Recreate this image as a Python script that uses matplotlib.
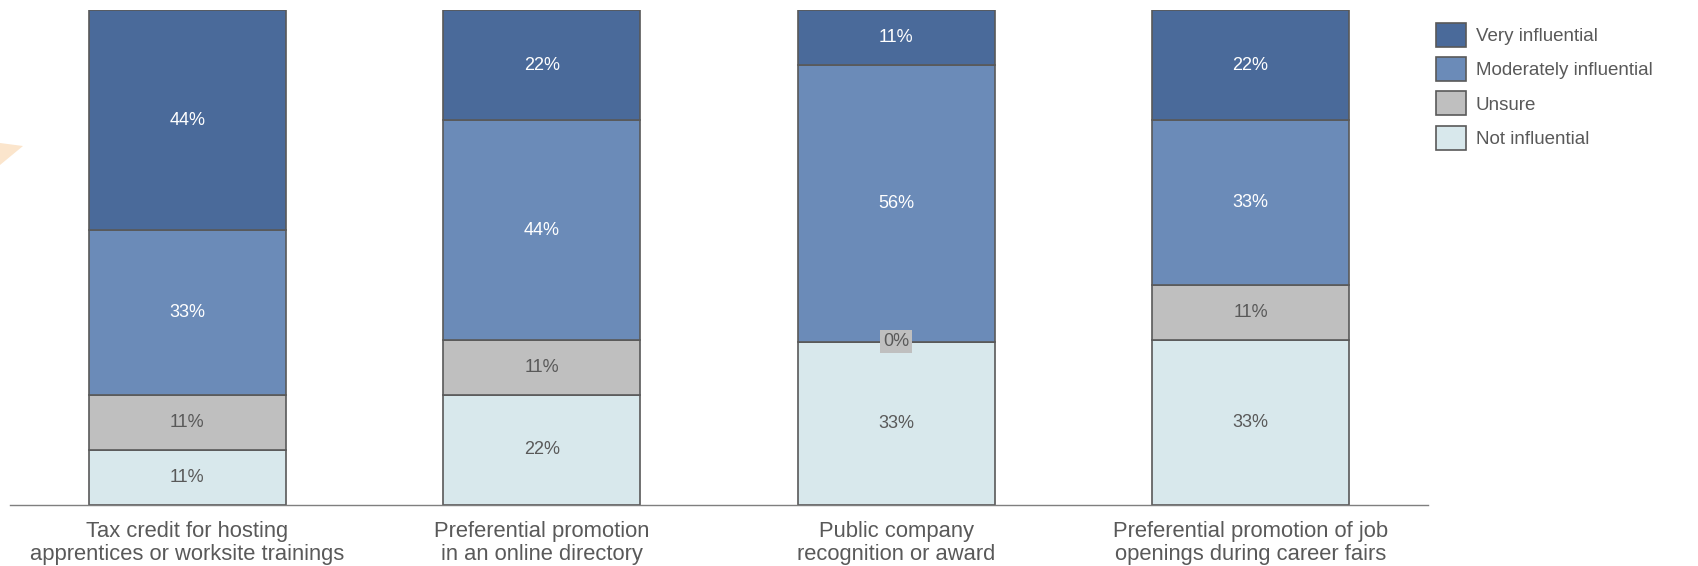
import matplotlib
matplotlib.use("Agg")
import matplotlib.pyplot as plt
import numpy as np
from matplotlib.patches import Polygon, Patch

plt.rcParams['font.family'] = ['Liberation Sans', 'DejaVu Sans']

categories = [
    "Tax credit for hosting\napprentices or worksite trainings",
    "Preferential promotion\nin an online directory",
    "Public company\nrecognition or award",
    "Preferential promotion of job\nopenings during career fairs",
]
series_names = ["Not influential", "Unsure", "Moderately influential", "Very influential"]
not_influential = [11, 22, 33, 33]
unsure = [11, 11, 0, 11]
moderately = [33, 44, 56, 33]
very = [44, 22, 11, 22]

colors = ["#D8E8EC", "#BFBFBF", "#6B8BB8", "#4A6A9A"]
text_colors = ["#595959", "#595959", "white", "white"]
edge = "#595959"

series = [not_influential, unsure, moderately, very]
data = np.array(series, dtype=float)
totals = data.sum(axis=0)
shares = data / totals * 100  # 100% stacked columns

fig = plt.figure(figsize=(16.98, 5.66), dpi=100)
ax = fig.add_axes([0.0059, 0.108, 0.835, 0.874])

x = np.arange(len(categories))
bottom = np.zeros(len(categories))
for vals, share, col, tcol in zip(series, shares, colors, text_colors):
    ax.bar(x, share, bottom=bottom, width=0.556, color=col, edgecolor=edge, linewidth=1.2, zorder=2)
    for xi, v, s, b in zip(x, vals, share, bottom):
        if v == 0:
            ax.text(xi, b + s / 2, f"{v}%", ha="center", va="center", fontsize=13, color=tcol,
                    bbox=dict(boxstyle="square,pad=0.15", fc="#BFBFBF", ec="none"), zorder=4)
        else:
            ax.text(xi, b + s / 2, f"{v}%", ha="center", va="center", fontsize=13, color=tcol, zorder=4)
    bottom += share

ax.set_xlim(-0.5, 3.5)
ax.set_ylim(0, 100)
for s in ["top", "right", "left"]:
    ax.spines[s].set_visible(False)
ax.spines["bottom"].set_color("#7F7F7F")
ax.spines["bottom"].set_linewidth(1.0)
ax.set_yticks([])
ax.set_xticks(x)
ax.set_xticklabels(categories, fontsize=15.8, color="#595959", linespacing=1.16)
ax.tick_params(axis="x", length=0, pad=11.5)

handles = [Patch(facecolor=c, edgecolor=edge, linewidth=1.2) for c in colors[::-1]]
leg = fig.legend(handles, series_names[::-1], loc="upper left", bbox_to_anchor=(0.836, 0.99),
                 frameon=False, fontsize=13.5, labelcolor="#595959", handlelength=1.6,
                 handleheight=1.6, handletextpad=0.5, labelspacing=0.55)

# faint decorative wedge at the left edge
fig.patches.append(Polygon([[0, 1 - 143 / 566], [23 / 1698, 1 - 146 / 566], [0, 1 - 165 / 566]],
                           closed=True, transform=fig.transFigure, fc="#FBE5CC", ec="none", zorder=0))

fig.savefig("out.png", dpi=100)
